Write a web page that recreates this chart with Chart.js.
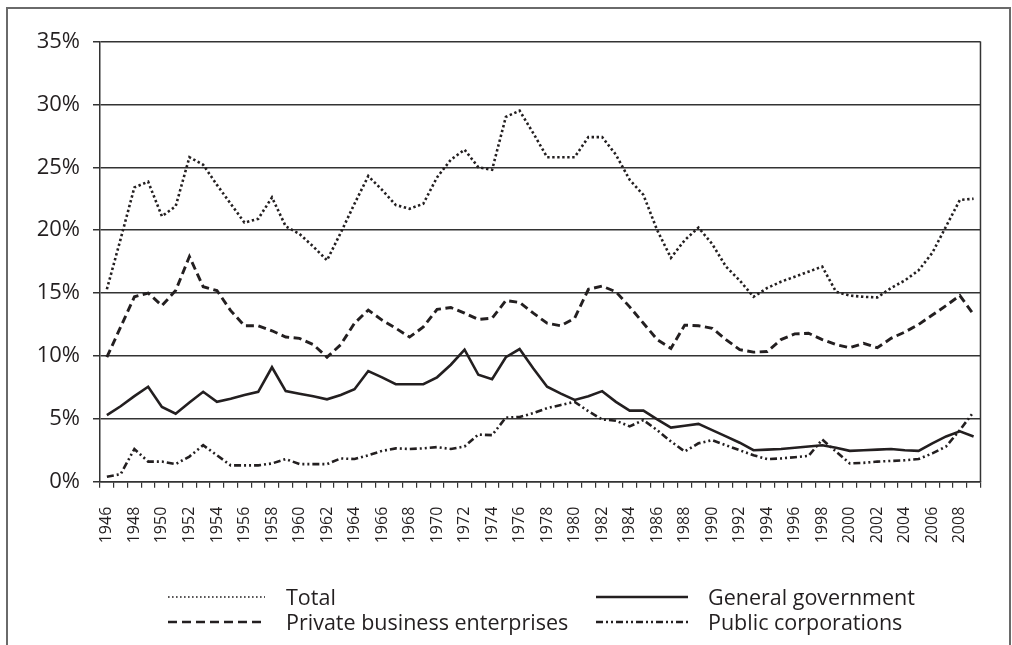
<!DOCTYPE html>
<html>
<head>
<meta charset="utf-8">
<script src="https://cdn.jsdelivr.net/npm/chart.js@4.4.1/dist/chart.umd.min.js"></script>
<style>
  html, body { margin: 0; padding: 0; background: #fff; }
  body { width: 1012px; height: 645px; position: relative; overflow: hidden; font-family: "Open Sans", sans-serif; color: #231f20; }
  #frame { position: absolute; left: 6px; top: 7px; width: 1001px; height: 700px; border: 2px solid #6a6a6a; border-bottom: none; }
  #c { position: absolute; left: 0; top: 0; }
  .lg-sample { position: absolute; }
  .lg-text { position: absolute; font-size: 21.5px; line-height: 26px; white-space: nowrap; color: #231f20; }
</style>
</head>
<body>
<div id="frame"></div>
<canvas id="c" width="1012" height="645"></canvas>
<div id="legend"></div>
<script>
const years = [];
for (let y = 1946; y <= 2009; y++) years.push(String(y));

const seriesNames = ["Total", "General government", "Private business enterprises", "Public corporations"];

const total = [15.3,19.3,23.4,23.85,21.1,21.9,25.8,25.2,23.6,22.1,20.6,20.9,22.6,20.3,19.7,18.7,17.6,19.8,22.1,24.3,23.2,22.0,21.7,22.1,24.2,25.6,26.4,25.0,24.8,29.0,29.5,27.7,25.8,25.8,25.8,27.4,27.4,26.0,24.0,22.8,20.0,17.8,19.2,20.2,18.9,17.1,16.0,14.7,15.4,15.9,16.3,16.7,17.1,15.1,14.8,14.7,14.65,15.4,16.0,16.8,18.2,20.3,22.4,22.5];

const privateBusiness = [9.9,12.3,14.7,15.0,14.0,15.2,17.9,15.5,15.2,13.6,12.4,12.4,12.0,11.5,11.4,10.9,9.9,10.9,12.6,13.65,12.85,12.2,11.5,12.3,13.7,13.85,13.4,12.9,13.0,14.4,14.25,13.4,12.6,12.4,13.0,15.3,15.55,15.1,13.9,12.6,11.3,10.6,12.45,12.4,12.2,11.3,10.5,10.3,10.35,11.3,11.75,11.8,11.3,10.9,10.65,11.0,10.65,11.4,11.9,12.5,13.25,14.0,14.8,13.3];

const generalGovernment = [5.3,6.0,6.8,7.55,5.95,5.4,6.3,7.15,6.35,6.6,6.9,7.15,9.1,7.2,7.0,6.8,6.55,6.9,7.35,8.8,8.3,7.75,7.75,7.75,8.3,9.3,10.5,8.5,8.15,9.9,10.55,9.0,7.55,7.0,6.5,6.8,7.2,6.35,5.65,5.65,4.95,4.3,4.45,4.6,4.1,3.6,3.1,2.5,2.55,2.6,2.7,2.8,2.9,2.7,2.45,2.5,2.55,2.6,2.5,2.45,3.05,3.6,4.0,3.6];

const publicCorporations = [0.4,0.6,2.6,1.6,1.6,1.4,2.0,2.9,2.1,1.3,1.3,1.3,1.45,1.8,1.4,1.4,1.4,1.85,1.8,2.1,2.45,2.65,2.6,2.65,2.75,2.6,2.8,3.75,3.7,5.1,5.15,5.45,5.85,6.1,6.35,5.6,4.95,4.85,4.4,4.9,4.1,3.2,2.4,3.05,3.3,2.9,2.5,2.1,1.8,1.85,1.95,2.05,3.35,2.4,1.45,1.5,1.6,1.65,1.7,1.8,2.25,2.8,4.1,5.55];

const yTicks = [0, 5, 10, 15, 20, 25, 30, 35];

const INK = '#231f20';
const GRID = '#333333';

const styles = {
  "Total": { dash: [2.4, 2.6], width: 2.6, cap: 'butt', legendDash: '1.6 2.4', legendWidth: 1.7 },
  "General government": { dash: [], width: 2.6, cap: 'butt', legendDash: '', legendWidth: 2.6 },
  "Private business enterprises": { dash: [8, 4.5], width: 2.9, cap: 'butt', legendDash: '9 5', legendWidth: 2.6 },
  "Public corporations": { dash: [7, 3, 2, 3, 2, 3], width: 2.6, cap: 'butt', legendDash: '7 3 2 3 2 3', legendWidth: 2.4 }
};

const seriesData = {
  "Total": total,
  "General government": generalGovernment,
  "Private business enterprises": privateBusiness,
  "Public corporations": publicCorporations
};

const datasets = seriesNames.map(name => ({
  label: name,
  data: seriesData[name],
  borderColor: INK,
  backgroundColor: INK,
  borderWidth: styles[name].width,
  borderDash: styles[name].dash,
  borderCapStyle: styles[name].cap,
  borderJoinStyle: 'miter',
  pointRadius: 0,
  tension: 0,
  fill: false
}));

const rightBorder = {
  id: 'rightBorder',
  afterDatasetsDraw(chart) {
    const { ctx, chartArea } = chart;
    ctx.save();
    ctx.strokeStyle = GRID;
    ctx.lineWidth = 1.5;
    ctx.beginPath();
    ctx.moveTo(chartArea.right, chartArea.top);
    ctx.lineTo(chartArea.right, chartArea.bottom);
    ctx.stroke();
    ctx.restore();
  }
};

new Chart(document.getElementById('c'), {
  type: 'line',
  data: { labels: years, datasets },
  options: {
    responsive: false,
    animation: false,
    devicePixelRatio: 1,
    layout: { padding: { left: 0, right: 25.5, top: 41.5, bottom: 0 } },
    plugins: { legend: { display: false }, tooltip: { enabled: false } },
    scales: {
      x: {
        type: 'category',
        offset: true,
        grid: { offset: true, drawOnChartArea: false, drawTicks: true, tickLength: 6, color: GRID, lineWidth: 1.2 },
        border: { display: true, color: GRID, width: 1.5 },
        ticks: {
          autoSkip: false,
          minRotation: 90,
          maxRotation: 90,
          padding: 19,
          color: INK,
          font: { family: 'Open Sans', size: 16 },
          callback: (v, i) => (i % 2 === 0 ? years[i] : '')
        },
        afterFit: (s) => { s.height = 163.3; }
      },
      y: {
        min: 0,
        max: 35,
        afterBuildTicks: (s) => { s.ticks = yTicks.map(v => ({ value: v })); },
        grid: { color: GRID, lineWidth: 1.5, tickLength: 7, drawTicks: true },
        border: { display: true, color: GRID, width: 1.5 },
        ticks: {
          padding: 13,
          color: INK,
          font: { family: 'Open Sans', size: 22 },
          callback: (v) => v + '%'
        },
        afterFit: (s) => { s.width = 100; }
      }
    }
  },
  plugins: [rightBorder]
});

// HTML legend (two columns, two rows)
const legendPos = {
  "Total": { sx: 168, sw: 97, tx: 286, cy: 597 },
  "General government": { sx: 596, sw: 92, tx: 708, cy: 597 },
  "Private business enterprises": { sx: 168, sw: 97, tx: 286, cy: 622 },
  "Public corporations": { sx: 596, sw: 92, tx: 708, cy: 622 }
};
const legend = document.getElementById('legend');
seriesNames.forEach(name => {
  const p = legendPos[name];
  const st = styles[name];
  const svgNS = 'http://www.w3.org/2000/svg';
  const svg = document.createElementNS(svgNS, 'svg');
  svg.setAttribute('width', p.sw);
  svg.setAttribute('height', 10);
  svg.setAttribute('class', 'lg-sample');
  svg.style.left = p.sx + 'px';
  svg.style.top = (p.cy - 5) + 'px';
  const line = document.createElementNS(svgNS, 'line');
  line.setAttribute('x1', 0); line.setAttribute('x2', p.sw);
  line.setAttribute('y1', 5); line.setAttribute('y2', 5);
  line.setAttribute('stroke', INK);
  line.setAttribute('stroke-width', st.legendWidth);
  if (st.legendDash) line.setAttribute('stroke-dasharray', st.legendDash);
  svg.appendChild(line);
  legend.appendChild(svg);
  const t = document.createElement('div');
  t.className = 'lg-text';
  t.textContent = name;
  t.style.left = p.tx + 'px';
  t.style.top = (p.cy - 13) + 'px';
  legend.appendChild(t);
});
</script>
</body>
</html>
